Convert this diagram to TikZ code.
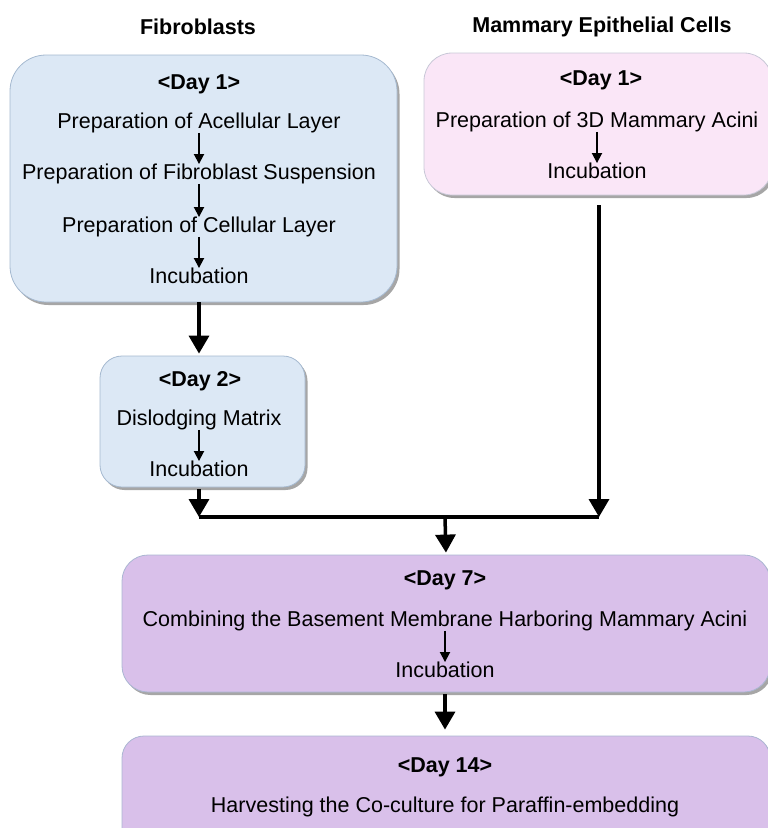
\documentclass[tikz,border=0pt]{standalone}
\usepackage{fontspec}
\setmainfont{Liberation Sans}
\usetikzlibrary{arrows.meta,shadows}

\definecolor{fibroFill}{RGB}{220,232,245}
\definecolor{fibroDraw}{RGB}{165,185,208}
\definecolor{mecFill}{RGB}{250,230,247}
\definecolor{mecDraw}{RGB}{200,200,215}
\definecolor{coFill}{RGB}{217,192,234}
\definecolor{coDraw}{RGB}{170,182,210}

\begin{document}
\begin{tikzpicture}[
        % pixel grid, y downwards
        x=1pt, y=-1pt,
        every node/.style={font=\fontsize{21.5}{24}\selectfont},
        txt/.style={inner sep=0pt, text height=15pt, text depth=4.5pt, yshift=-2pt},
        daytxt/.style={txt, font=\fontsize{21.5}{24}\selectfont\bfseries},
        head/.style={font=\fontsize{21.5}{24}\selectfont\bfseries},
        box/.style={line width=0.8pt, drop shadow={shadow xshift=2.5pt, shadow yshift=-3pt, fill=black, opacity=0.35}},
        fibroBox/.style={box, fill=fibroFill, draw=fibroDraw},
        mecBox/.style={box, fill=mecFill, draw=mecDraw},
        coBox/.style={box, fill=coFill, draw=coDraw},
        smallArrow/.style={-{Triangle[length=10pt,width=10pt]}, line width=1.8pt},
        bigArrow/.style={-{Triangle[length=18pt,width=20pt]}, line width=3.5pt},
        bigLine/.style={line width=3.5pt}
    ]

    \useasboundingbox (0,0) rectangle (768,828);

    % --- 1. column titles ---
    \node[head] (fibTitle) at (198,27) {Fibroblasts};
    \node[head] (mecTitle) at (602,27) {Mammary Epithelial Cells};

    % --- 2. boxes (background) ---
    \node[fibroBox, rounded corners=36pt, minimum width=387pt, minimum height=247pt] (fib1) at (203.5,178.5) {};
    \node[mecBox, rounded corners=28pt, minimum width=348pt, minimum height=142pt] (mec1) at (598,124) {};
    \node[fibroBox, rounded corners=22pt, minimum width=205pt, minimum height=131pt] (fib2) at (202.5,421.5) {};
    \node[coBox, rounded corners=26pt, minimum width=648pt, minimum height=137pt] (co7) at (446,623.5) {};
    \node[coBox, rounded corners=22pt, minimum width=648pt, minimum height=120pt] (co14) at (446,796) {};

    % --- 3. fibroblasts, day 1 ---
    \node[daytxt] (fib1Day) at (199,82) {<Day 1>};
    \node[txt] (fibAcell) at (199,121) {Preparation of Acellular Layer};
    \node[txt] (fibSusp) at (199,172) {Preparation of Fibroblast Suspension};
    \node[txt] (fibCell) at (199,225) {Preparation of Cellular Layer};
    \node[txt] (fibInc1) at (199,276) {Incubation};
    \draw[smallArrow] (fibAcell) -- (fibSusp);
    \draw[smallArrow] (fibSusp) -- (fibCell);
    \draw[smallArrow] (fibCell) -- (fibInc1);

    % --- 4. mammary epithelial cells, day 1 ---
    \node[daytxt] (mec1Day) at (601,78) {<Day 1>};
    \node[txt] (mecAcini) at (597,120) {Preparation of 3D Mammary Acini};
    \node[txt] (mecInc) at (597,171) {Incubation};
    \draw[smallArrow] (mecAcini) -- (mecInc);

    % --- 5. fibroblasts, day 2 ---
    \node[daytxt] (fib2Day) at (200,379) {<Day 2>};
    \node[txt] (fibDislodge) at (199,418) {Dislodging Matrix};
    \node[txt] (fibInc2) at (199,469) {Incubation};
    \draw[smallArrow] (fibDislodge) -- (fibInc2);

    % --- 6. co-culture, day 7 and day 14 ---
    \node[daytxt] (co7Day) at (445,578) {<Day 7>};
    \node[txt] (coCombine) at (445,619) {Combining the Basement Membrane Harboring Mammary Acini};
    \node[txt] (coInc) at (445,670) {Incubation};
    \draw[smallArrow] (coCombine) -- (coInc);

    \node[daytxt] (co14Day) at (445,765) {<Day 14>};
    \node[txt] (coHarvest) at (445,805) {Harvesting the Co-culture for Paraffin-embedding};

    % --- 7. flow between boxes ---
    \coordinate (mergeL) at (199,517);
    \coordinate (mergeR) at (599,517);
    \coordinate (mergeM) at (445,517);
    \coordinate (mecOut) at (599,205);

    \draw[bigArrow, shorten >=2pt] (fibInc1 |- fib1.south) -- (fibInc1 |- fib2.north);
    \draw[bigArrow] ([yshift=-2pt]fibInc2 |- fib2.south) -- (mergeL);
    \draw[bigArrow] (mecOut) -- (mergeR);
    \draw[bigLine] (mergeL) -- (mergeR);
    \draw[bigArrow, shorten >=2pt] (mergeM) -- (co7.north);
    \draw[bigArrow, shorten >=6pt] ([yshift=-2pt]co7.south -| coInc) -- (co14.north -| coInc);

\end{tikzpicture}
\end{document}
